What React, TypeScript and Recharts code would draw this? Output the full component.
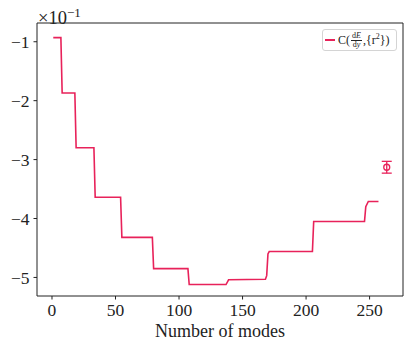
import {
  ComposedChart,
  Line,
  Scatter,
  ErrorBar,
  XAxis,
  YAxis,
  ReferenceArea,
} from "recharts";

// values shown in units of 1e-1
const modes = [1, 7, 8, 18, 19, 33, 34, 54, 55, 79, 80, 107, 108, 137, 139, 168, 169, 170, 171, 205, 206, 246, 247, 249, 257];
const corr = [-0.93, -0.93, -1.87, -1.87, -2.8, -2.8, -3.64, -3.64, -4.32, -4.32, -4.85, -4.85, -5.12, -5.12, -5.04, -5.03, -4.97, -4.6, -4.56, -4.56, -4.05, -4.05, -3.8, -3.71, -3.71];

const pointX = [263.5];
const pointY = [-3.13];
const pointErr = [0.1];

const xTicks = [0, 50, 100, 150, 200, 250];
const yTicks = [-5, -4, -3, -2, -1];

const X_DOMAIN: [number, number] = [-11.8, 276.3];
const Y_DOMAIN: [number, number] = [-5.315, -0.682];

const COLOR = "#e8225a";
const FONT = "Liberation Serif, DejaVu Serif, serif";

const lineData = modes.map((m, i) => ({ x: m, y: corr[i] }));
const pointData = pointX.map((x, i) => ({ x, y: pointY[i], err: pointErr[i] }));

const fmt = (v: number) => (v < 0 ? `\u2212${Math.abs(v)}` : `${v}`);

const XTick = (props: any) => {
  const { x, y, payload } = props;
  return (
    <text x={x} y={y} dy="0.71em" textAnchor="middle" fill="#222" style={{ fontFamily: FONT, fontSize: 17.5 }}>
      {fmt(payload.value)}
    </text>
  );
};

const YTick = (props: any) => {
  const { x, y, payload } = props;
  return (
    <text x={x} y={y} dy="0.36em" textAnchor="end" fill="#222" style={{ fontFamily: FONT, fontSize: 17.5 }}>
      {fmt(payload.value)}
    </text>
  );
};

const HollowDot = (props: any) => {
  const { cx, cy } = props;
  return <circle cx={cx} cy={cy} r={3} fill="none" stroke={COLOR} strokeWidth={1.3} />;
};

const LegendBox = () => (
  <div
    style={{
      position: "absolute",
      left: 322,
      top: 29,
      width: 75,
      height: 22,
      boxSizing: "border-box",
      display: "flex",
      alignItems: "center",
      border: "1px solid #d4d4d4",
      borderRadius: 3,
      background: "#fff",
      padding: "0 2px",
      fontSize: 12,
      color: "#222",
    }}
  >
    <span style={{ display: "inline-block", width: 10, height: 0, borderTop: `2px solid ${COLOR}`, marginRight: 3 }} />
    <span>C(</span>
    <span style={{ display: "inline-flex", flexDirection: "column", alignItems: "center", fontSize: 8, lineHeight: "8px", margin: "0 1px" }}>
      <span style={{ borderBottom: "0.6px solid #222", padding: "0 1px" }}>
        d<i>E</i>
      </span>
      <span>
        d<i>y</i>
      </span>
    </span>
    <span>
      ,{"{"}r<sup style={{ fontSize: 8 }}>2</sup>{"}"})
    </span>
  </div>
);

export default function App() {
  return (
    <div style={{ position: "absolute", left: 0, top: 0, width: 411, height: 348, background: "#fff", fontFamily: FONT }}>
      <div style={{ position: "absolute", left: 38, top: 3, fontSize: 18.5, color: "#222", lineHeight: "19px" }}>
        ×10<sup style={{ fontSize: 13, verticalAlign: "7px" }}>{"\u2212"}1</sup>
      </div>
      <ComposedChart width={411} height={348} margin={{ top: 23, right: 8, bottom: 0, left: 0 }}>
        <XAxis
          dataKey="x"
          type="number"
          domain={X_DOMAIN}
          ticks={xTicks}
          allowDataOverflow
          height={52}
          tickSize={3.5}
          tickMargin={4}
          axisLine={false}
          tickLine={{ stroke: "#222" }}
          tick={<XTick />}
          label={{ value: "Number of modes", position: "insideBottom", offset: 11, fill: "#222", fontSize: 18, fontFamily: FONT }}
        />
        <YAxis
          type="number"
          domain={Y_DOMAIN}
          ticks={yTicks}
          allowDataOverflow
          width={37}
          tickSize={3.5}
          tickMargin={4}
          axisLine={false}
          tickLine={{ stroke: "#222" }}
          tick={<YTick />}
        />
        <ReferenceArea
          x1={X_DOMAIN[0]}
          x2={X_DOMAIN[1]}
          y1={Y_DOMAIN[0]}
          y2={Y_DOMAIN[1]}
          fill="none"
          stroke="#222"
          strokeWidth={1}
          ifOverflow="extendDomain"
        />
        <Line
          data={lineData}
          dataKey="y"
          type="linear"
          stroke={COLOR}
          strokeWidth={1.6}
          dot={false}
          activeDot={false}
          isAnimationActive={false}
        />
        <Scatter data={pointData} dataKey="y" shape={<HollowDot />} isAnimationActive={false}>
          <ErrorBar dataKey="err" direction="y" width={5} stroke={COLOR} strokeWidth={1.3} />
        </Scatter>
      </ComposedChart>
      <LegendBox />
    </div>
  );
}
